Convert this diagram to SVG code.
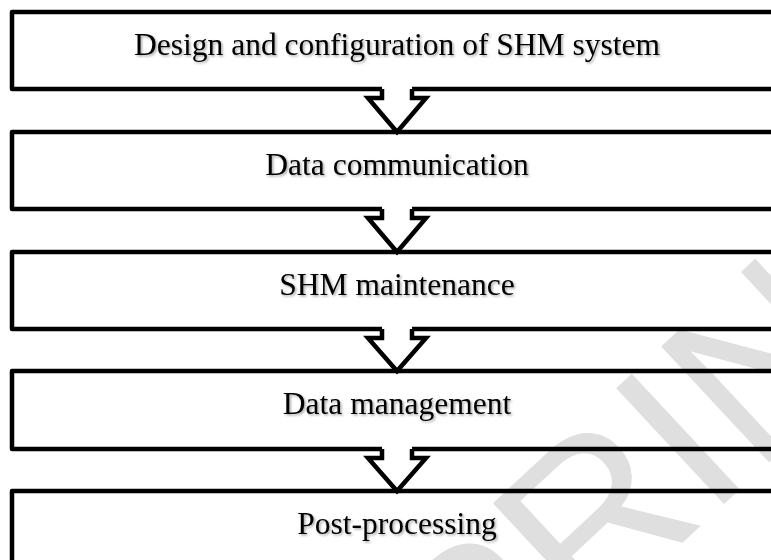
<svg xmlns="http://www.w3.org/2000/svg" width="771" height="560" viewBox="0 0 771 560">
  <defs>
    <filter id="textShadow" x="-5%" y="-30%" width="110%" height="160%">
      <feDropShadow dx="1.5" dy="1.5" stdDeviation="1" flood-color="#000" flood-opacity="0.35"/>
    </filter>
    <style>
      .box { fill: none; stroke: #000; stroke-width: 4.5; stroke-linejoin: round; }
      .arrow { fill: none; stroke: #000; stroke-width: 4.5; stroke-linejoin: miter; }
      .label { font-family: "Liberation Serif", "Times New Roman", serif; font-size: 31.5px; fill: #000; text-anchor: middle; filter: url(#textShadow); }
      .mark { font-family: "Liberation Sans", Arial, sans-serif; font-size: 230px; fill: #dfdfdf; }
    </style>
  </defs>
  <rect width="771" height="560" fill="#fff"/>

  <!-- background stamp -->
  <text class="mark" transform="translate(129 1059) rotate(-43)">PREPRINT</text>

  <g id="node-design">
    <path class="box" d="M382,89 H12 V12 H782 V89 H412"/>
    <text class="label" x="397" y="54.5">Design and configuration of SHM system</text>
  </g>
  <g id="node-communication">
    <path class="box" d="M382,209 H12 V132 H782 V209 H412"/>
    <text class="label" x="397" y="174.5">Data communication</text>
  </g>
  <g id="node-maintenance">
    <path class="box" d="M382,329 H12 V252 H782 V329 H412"/>
    <text class="label" x="397" y="294.5">SHM maintenance</text>
  </g>
  <g id="node-management">
    <path class="box" d="M382,449 H12 V371 H782 V449 H412"/>
    <text class="label" x="397" y="414">Data management</text>
  </g>
  <g id="node-postprocessing">
    <path class="box" d="M12,600 V491 H782"/>
    <text class="label" x="397" y="534">Post-processing</text>
  </g>

  <g id="connectors">
    <path class="arrow" d="M382,89 V98 H368 L397,132 L426,98 H412 V89"/>
    <path class="arrow" d="M382,209 V218 H368 L397,252 L426,218 H412 V209"/>
    <path class="arrow" d="M382,329 V338 H368 L397,371 L426,338 H412 V329"/>
    <path class="arrow" d="M382,449 V458 H368 L397,491 L426,458 H412 V449"/>
  </g>
</svg>
